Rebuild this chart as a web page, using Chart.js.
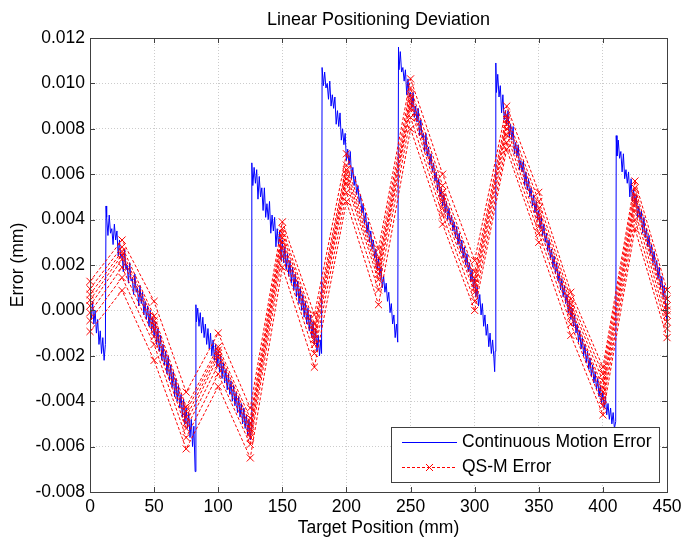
<!DOCTYPE html>
<html>
<head>
<meta charset="utf-8">
<title>Linear Positioning Deviation</title>
<script src="https://cdn.jsdelivr.net/npm/chart.js@4.4.1/dist/chart.umd.min.js"></script>
<style>
    html, body { margin: 0; padding: 0; background: #fff; }
    #chart-box { width: 694px; height: 537px; }
</style>
</head>
<body>
<div id="chart-box"><canvas id="deviation-chart" width="694" height="537"></canvas></div>
<script>
// values in micrometres, converted to mm when the datasets are built
var blueX = [
    0.3, 1, 2, 3, 4, 5, 6, 7, 8, 9, 10, 11, 12,
    12.5, 13, 14, 15, 16, 17, 18, 19, 20, 21, 22, 23, 24, 25, 26, 27, 28, 29, 30, 31, 32, 33, 34, 35, 36, 37, 38, 39, 40,
    41, 42, 43, 44, 45, 46, 47, 48, 49, 50, 51, 52, 53, 54, 55, 56, 57, 58, 59, 60, 61, 62, 63, 64, 65, 66, 67, 68, 69, 70,
    71, 72, 73, 74, 75, 76, 77, 78, 79, 80, 81, 82,
    82.6, 83, 84, 85, 86, 87, 88, 89, 90, 91, 92, 93, 94, 95, 96, 97, 98, 99, 100, 101, 102, 103, 104, 105, 106, 107, 108,
    109, 110, 111, 112, 113, 114, 115, 116, 117, 118, 119, 120, 121, 122, 123, 124, 125, 125.8,
    126.2, 127, 128, 129, 130, 131, 132, 133, 134, 135, 136, 137, 138, 139, 140, 141, 142, 143, 144, 145, 146, 147, 148, 149,
    150, 151, 152, 153, 154, 155, 156, 157, 158, 159, 160, 161, 162, 163, 164, 165, 166, 167, 168, 169, 170, 171, 172, 173,
    174, 175, 176, 177, 178, 179, 180, 180.6,
    181, 182, 183, 184, 185, 186, 187, 188, 189, 190, 191, 192, 193, 194, 195, 196, 197, 198, 199, 200, 201, 202, 203, 204,
    205, 206, 207, 208, 209, 210, 211, 212, 213, 214, 215, 216, 217, 218, 219, 220, 221, 222, 223, 224, 225, 226, 227, 228,
    229, 230, 231, 232, 233, 234, 235, 236, 237, 238, 239, 240,
    240.6, 241, 242, 243, 244, 245, 246, 247, 248, 249, 250, 251, 252, 253, 254, 255, 256, 257, 258, 259, 260, 261, 262,
    263, 264, 265, 266, 267, 268, 269, 270, 271, 272, 273, 274, 275, 276, 277, 278, 279, 280, 281, 282, 283, 284, 285, 286,
    287, 288, 289, 290, 291, 292, 293, 294, 295, 296, 297, 298, 299, 300, 301, 302, 303, 304, 305, 306, 307, 308, 309, 310,
    311, 312, 313, 314, 315, 315.6, 316,
    316.5, 317, 318, 319, 320, 321, 322, 323, 324, 325, 326, 327, 328, 329, 330, 331, 332, 333, 334, 335, 336, 337, 338, 339,
    340, 341, 342, 343, 344, 345, 346, 347, 348, 349, 350, 351, 352, 353, 354, 355, 356, 357, 358, 359, 360, 361, 362, 363,
    364, 365, 366, 367, 368, 369, 370, 371, 372, 373, 374, 375, 376, 377, 378, 379, 380, 381, 382, 383, 384, 385, 386, 387,
    388, 389, 390, 391, 392, 393, 394, 395, 396, 397, 398, 399, 400, 401, 402, 403, 404, 405, 406, 407, 408, 409, 410,
    410.4, 411, 412, 413, 414, 415, 416, 417, 418, 419, 420, 421, 422, 423, 424, 425, 426, 427, 428, 429, 430, 431, 432,
    433, 434, 435, 436, 437, 438, 439, 440, 441, 442, 443, 444, 445, 446, 447, 448, 449, 450
];
var blueY = [
    0.2, -0.4, 0.4, -0.6, 0.0, -1.0, -0.4, -1.5, -0.9, -1.9, -1.2, -2.2, -1.5,
    4.6, 4.1, 3.3, 4.2, 3.4, 3.6, 2.9, 3.8, 3.1, 3.5, 2.4, 3.1, 2.3, 2.5, 1.7, 2.7, 1.8, 2.0, 1.2, 2.1, 1.3, 1.4, 0.7, 1.6, 0.8, 1.0, 0.2, 1.1, 0.3,
    0.8, -0.2, 0.4, -0.4, 0.2, -0.7, 0.0, -0.9, -0.3, -1.2, -0.5, -1.5, -0.8, -1.8, -1.1, -2.2, -1.5, -2.4, -1.8, -2.8, -2.0, -3.1, -2.4, -3.4, -2.7, -3.8, -3.0, -4.0, -3.3, -4.3,
    -3.7, -4.7, -3.9, -5.0, -4.3, -5.2, -4.5, -5.6, -4.8, -6.0, -5.1, -7.1,
    0.25, -0.5, 0.1, -0.7, -0.1, -1.0, -0.3, -1.2, -0.6, -1.5, -0.8, -1.7, -1.0, -2.0, -1.3, -2.2, -1.5, -2.5, -1.8, -2.7, -2.0, -3.0, -2.3, -3.2, -2.6, -3.5, -2.8,
    -3.7, -3.1, -4.0, -3.3, -4.2, -3.6, -4.5, -3.8, -4.7, -4.1, -5.0, -4.3, -5.2, -4.6, -5.5, -4.8, -5.7, -5.2,
    6.5, 5.5, 6.3, 5.6, 6.2, 4.9, 5.9, 5.0, 5.4, 4.4, 5.4, 4.1, 4.7, 4.0, 4.8, 3.4, 4.2, 3.5, 4.1, 2.8, 3.6, 2.9, 3.5, 2.2,
    3.1, 2.1, 2.8, 1.8, 2.5, 1.5, 2.2, 1.2, 1.9, 0.9, 1.6, 0.6, 1.3, 0.3, 1.0, 0.0, 0.7, -0.3, 0.4, -0.6, 0.1, -0.9, -0.2, -1.2,
    -0.5, -1.5, -0.8, -1.8, -1.1, -2.0, -1.3, -1.9,
    10.7, 9.9, 10.5, 9.8, 10.0, 9.3, 10.1, 9.0, 9.5, 8.9, 9.4, 8.2, 8.8, 8.1, 8.7, 7.5, 8.0, 7.3, 7.8, 6.6, 7.1, 6.4, 7.0, 5.8,
    6.3, 5.5, 5.9, 5.1, 5.5, 4.7, 5.1, 4.3, 4.7, 3.8, 4.3, 3.4, 3.9, 3.0, 3.5, 2.7, 3.1, 2.3, 2.7, 1.8, 2.3, 1.5, 1.9, 1.0,
    1.5, 0.8, 1.2, 0.4, 0.8, -0.1, 0.3, -0.6, -0.2, -1.2, -0.6, -1.4,
    11.6, 10.6, 11.4, 10.5, 10.7, 10.1, 10.6, 9.5, 10.2, 9.4, 9.6, 8.9, 9.6, 8.5, 9.0, 8.3, 8.9, 7.7, 8.4, 7.6, 7.8, 7.0, 7.8,
    6.8, 7.2, 6.4, 6.9, 6.1, 6.5, 5.7, 6.1, 5.3, 5.8, 5.0, 5.4, 4.6, 5.1, 4.3, 4.8, 4.0, 4.5, 3.8, 4.2, 3.5, 3.9, 3.2, 3.7,
    2.9, 3.4, 2.6, 3.1, 2.3, 2.8, 2.0, 2.5, 1.7, 2.1, 1.3, 1.8, 1.0, 1.4, 0.6, 1.1, 0.2, 0.7, -0.2, 0.3, -0.7, -0.2, -1.1, -0.6,
    -1.6, -1.0, -1.9, -1.3, -2.1, -2.7, -1.8,
    10.9, 9.6, 10.4, 9.4, 9.9, 8.7, 9.5, 8.4, 8.8, 8.2, 8.8, 7.6, 8.2, 7.5, 8.1, 6.9, 7.4, 6.8, 7.3, 6.2, 6.6, 6.1, 6.6, 5.5,
    6.1, 5.3, 5.8, 5.0, 5.4, 4.6, 5.1, 4.3, 4.8, 4.0, 4.4, 3.6, 4.1, 3.3, 3.8, 3.0, 3.4, 2.6, 3.1, 2.3, 2.7, 1.9, 2.4, 1.6,
    2.1, 1.3, 1.7, 0.9, 1.4, 0.6, 1.1, 0.3, 0.7, -0.1, 0.4, -0.4, 0.1, -0.7, -0.2, -1.0, -0.6, -1.4, -0.9, -1.7, -1.2, -2.0, -1.5, -2.3,
    -1.8, -2.6, -2.1, -2.9, -2.4, -3.2, -2.7, -3.5, -3.0, -3.8, -3.3, -4.1, -3.6, -4.3, -3.8, -4.6, -4.1, -4.8, -4.3, -5.0, -4.5, -5.2, -4.9,
    7.7, 6.8, 7.5, 6.7, 7.0, 6.1, 6.9, 5.8, 6.2, 5.6, 6.1, 5.0, 5.8, 4.8, 5.3, 4.7, 5.1, 4.1, 4.6, 4.0, 4.4, 3.4, 4.1,
    3.2, 3.6, 2.8, 3.3, 2.5, 2.9, 2.1, 2.6, 1.8, 2.2, 1.4, 1.9, 1.0, 1.5, 0.6, 1.1, 0.1, -0.5
];

var qsmPos = [0, 25, 50, 75, 100, 125, 150, 175, 200, 225, 250, 275, 300, 325, 350, 375, 400, 425, 450];
var qsmRun1 = [1.28, 3.1, 0.4, -3.6, -1.0, -4.3, 3.9, -0.2, 6.9, 2.7, 10.2, 6.0, 2.2, 9.0, 5.2, 0.8, -2.5, 5.7, 0.9];
var qsmRun2 = [0.95, 2.8, -0.25, -4.25, -1.6, -4.75, 3.6, -0.6, 6.4, 2.3, 9.8, 5.5, 1.7, 8.6, 4.8, 0.5, -2.8, 5.4, 0.5];
var qsmRun3 = [0.7, 2.6, -0.45, -4.45, -1.75, -5.0, 3.4, -0.85, 6.2, 2.0, 9.5, 5.2, 1.4, 8.4, 4.5, 0.3, -3.1, 5.1, 0.2];
var qsmRun4 = [0.45, 2.45, -0.65, -4.7, -1.9, -5.2, 3.2, -1.05, 6.0, 1.8, 9.3, 5.0, 1.2, 8.2, 4.2, 0.1, -3.4, 4.9, 0.0];
var qsmRun5 = [0.2, 2.25, -0.85, -4.95, -2.05, -5.4, 3.0, -1.25, 5.8, 1.6, 9.1, 4.8, 1.0, 8.0, 4.0, -0.05, -3.6, 4.7, -0.2];
var qsmRun6 = [-0.1, 1.9, -1.15, -5.2, -2.4, -5.6, 2.75, -1.5, 5.6, 1.35, 8.9, 4.5, 0.8, 7.75, 3.7, -0.25, -3.9, 4.4, -0.5];
var qsmRun7 = [-0.45, 1.45, -1.5, -5.6, -2.8, -5.9, 2.4, -1.9, 5.2, 0.9, 8.5, 4.2, 0.4, 7.4, 3.4, -0.6, -4.2, 4.0, -0.8];
var qsmRun8 = [-0.93, 0.88, -2.2, -6.1, -3.35, -6.5, 1.9, -2.5, 4.8, 0.25, 8.0, 3.8, 0.0, 7.1, 3.0, -1.1, -4.6, 3.6, -1.2];

var xTicks = { min: 0, max: 450, step: 50 };
var yTicks = { min: -0.008, max: 0.012, step: 0.002 };
var chartTitle = 'Linear Positioning Deviation';

var FONT = 'Liberation Sans, Arial, Helvetica, sans-serif';
var FRAME = '#404040';

function toPoints(xs, ys) {
    var pts = [];
    for (var i = 0; i < xs.length; i++) {
        pts.push({ x: xs[i], y: ys[i] / 1000 });
    }
    return pts;
}

var datasets = [{
    label: 'Continuous Motion Error',
    data: toPoints(blueX, blueY),
    borderColor: '#0000ff',
    borderWidth: 1,
    pointRadius: 0,
    tension: 0,
    order: 2
}];

var runs = [qsmRun1, qsmRun2, qsmRun3, qsmRun4, qsmRun5, qsmRun6, qsmRun7, qsmRun8];
runs.forEach(function (run) {
    datasets.push({
        label: 'QS-M Error',
        data: toPoints(qsmPos, run),
        borderColor: '#ff0000',
        borderWidth: 1,
        borderDash: [3, 2],
        pointStyle: 'crossRot',
        pointRadius: 5,
        pointBorderColor: '#ff0000',
        pointBackgroundColor: 'rgba(0,0,0,0)',
        pointBorderWidth: 1,
        tension: 0,
        clip: false,
        order: 1
    });
});

// title, box, inward ticks on all four sides and the legend, drawn over the data
var matlabFrame = {
    id: 'matlabFrame',
    afterDraw: function (chart) {
        var ctx = chart.ctx;
        var a = chart.chartArea;
        var xs = chart.scales.x;
        var ys = chart.scales.y;
        var tl = 5;

        ctx.save();
        ctx.fillStyle = '#000';
        ctx.font = '18px ' + FONT;
        ctx.textAlign = 'center';
        ctx.textBaseline = 'alphabetic';
        ctx.fillText(chartTitle, (a.left + a.right) / 2, 25);

        ctx.setLineDash([]);
        ctx.strokeStyle = FRAME;
        ctx.lineWidth = 1;
        ctx.strokeRect(Math.round(a.left) + 0.5, Math.round(a.top) + 0.5, Math.round(a.right - a.left), Math.round(a.bottom - a.top));

        ctx.beginPath();
        xs.ticks.forEach(function (t) {
            var px = Math.round(xs.getPixelForValue(t.value)) + 0.5;
            ctx.moveTo(px, a.bottom); ctx.lineTo(px, a.bottom - tl);
            ctx.moveTo(px, a.top); ctx.lineTo(px, a.top + tl);
        });
        ys.ticks.forEach(function (t) {
            var py = Math.round(ys.getPixelForValue(t.value)) + 0.5;
            ctx.moveTo(a.left, py); ctx.lineTo(a.left + tl, py);
            ctx.moveTo(a.right, py); ctx.lineTo(a.right - tl, py);
        });
        ctx.stroke();

        // legend
        var blue = chart.data.datasets[0];
        var red = chart.data.datasets[1];
        var w = 268, h = 55;
        var left = Math.round(a.right - 8 - w), top = Math.round(a.bottom - 10 - h);
        ctx.fillStyle = '#ffffff';
        ctx.fillRect(left, top, w, h);
        ctx.strokeStyle = FRAME;
        ctx.strokeRect(left + 0.5, top + 0.5, w, h);

        var x0 = left + 11, x1 = left + 66;
        var r1 = top + 15.5, r2 = top + 40.5;
        ctx.strokeStyle = blue.borderColor;
        ctx.beginPath(); ctx.moveTo(x0, r1); ctx.lineTo(x1, r1); ctx.stroke();

        ctx.strokeStyle = red.borderColor;
        ctx.setLineDash(red.borderDash);
        ctx.beginPath(); ctx.moveTo(x0, r2); ctx.lineTo(x1, r2); ctx.stroke();
        ctx.setLineDash([]);
        var mx = (x0 + x1) / 2, m = 3.5;
        ctx.beginPath();
        ctx.moveTo(mx - m, r2 - m); ctx.lineTo(mx + m, r2 + m);
        ctx.moveTo(mx - m, r2 + m); ctx.lineTo(mx + m, r2 - m);
        ctx.stroke();

        ctx.fillStyle = '#000';
        ctx.font = '17.5px ' + FONT;
        ctx.textBaseline = 'middle';
        ctx.textAlign = 'left';
        ctx.fillText(blue.label, x1 + 5, r1);
        ctx.fillText(red.label, x1 + 5, r2);
        ctx.restore();
    }
};

var ctx = document.getElementById('deviation-chart');
var DeviationChart = new Chart(ctx, {
    type: 'line',
    data: { datasets: datasets },
    plugins: [matlabFrame],
    options: {
        responsive: false,
        animation: false,
        devicePixelRatio: 1,
        layout: { padding: { left: 0, right: 27, top: 38, bottom: 0 } },
        plugins: {
            legend: { display: false },
            tooltip: { enabled: false },
            title: { display: false }
        },
        scales: {
            x: {
                type: 'linear',
                min: xTicks.min,
                max: xTicks.max,
                afterFit: function (s) { s.height = 45; },
                ticks: {
                    stepSize: xTicks.step,
                    color: '#000',
                    font: { family: FONT, size: 17.5 },
                    padding: 5,
                    maxRotation: 0
                },
                grid: { color: 'rgba(0,0,0,0.2)', drawTicks: false, borderDash: [1, 2] },
                border: { display: false, dash: [1, 2] },
                title: {
                    display: true,
                    text: 'Target Position (mm)',
                    color: '#000',
                    font: { family: FONT, size: 17.5, lineHeight: 1 },
                    padding: 0
                }
            },
            y: {
                type: 'linear',
                min: yTicks.min,
                max: yTicks.max,
                afterFit: function (s) { s.width = 90; },
                ticks: {
                    stepSize: yTicks.step,
                    color: '#000',
                    font: { family: FONT, size: 17.5 },
                    padding: 5,
                    callback: function (v) {
                        return (Math.abs(v) < 1e-9 ? 0 : v).toFixed(3);
                    }
                },
                grid: { color: 'rgba(0,0,0,0.2)', drawTicks: false, borderDash: [1, 2] },
                border: { display: false, dash: [1, 2] },
                title: {
                    display: true,
                    text: 'Error (mm)',
                    color: '#000',
                    font: { family: FONT, size: 17.5, lineHeight: 1 },
                    padding: { top: 9, bottom: 0 }
                }
            }
        }
    }
});
</script>
</body>
</html>
